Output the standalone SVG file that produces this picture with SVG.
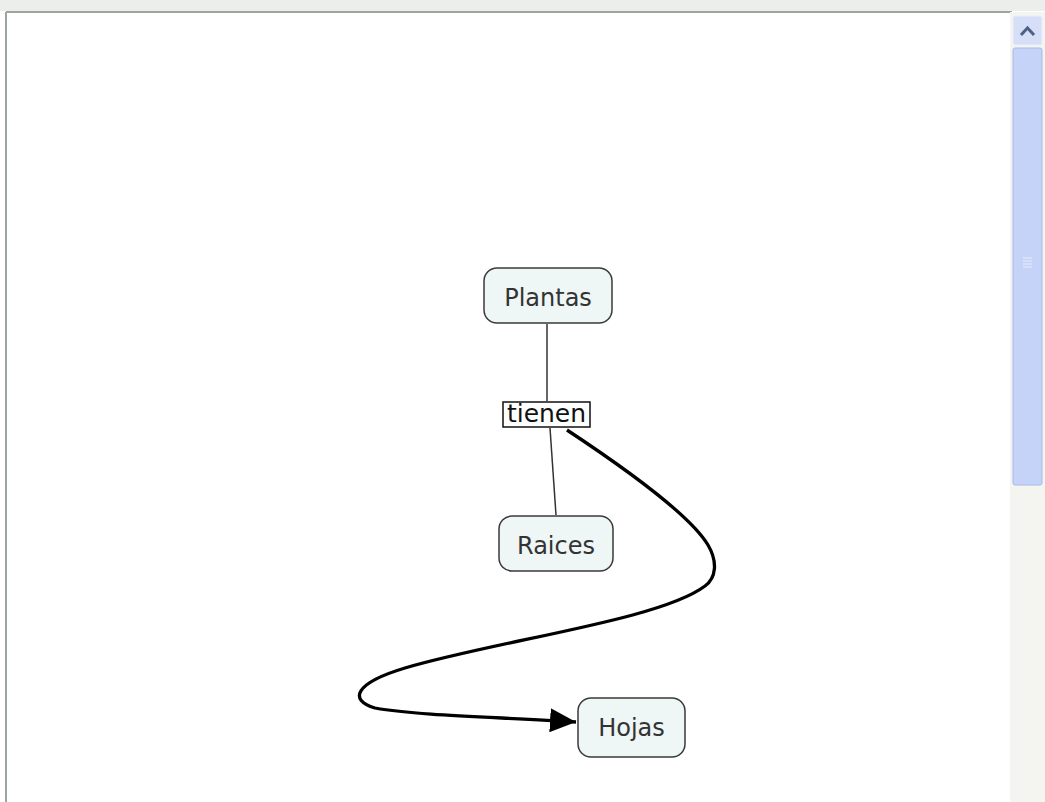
<svg xmlns="http://www.w3.org/2000/svg" width="1045" height="802" viewBox="0 0 1045 802">
<style>
.node rect{fill:#eef6f6;stroke:#3a3a3a;stroke-width:1.5}
.node text,.lbl text{font-family:"DejaVu Sans",sans-serif;font-size:24px;fill:#333;text-anchor:middle}
.lbl text{fill:#111;font-size:25px}
.thin{stroke:#333;stroke-width:1.5;fill:none}
</style>
<defs>
<marker id="ah" markerUnits="userSpaceOnUse" markerWidth="28" markerHeight="24" refX="26" refY="12" orient="auto">
<path d="M0,0 L26,12 L0,24 Z" fill="#000"/>
</marker>
</defs>
<rect x="0" y="0" width="1045" height="802" fill="#fff"/>
<rect x="0" y="0" width="1045" height="11" fill="#eceeec"/>
<line x1="6" y1="12" x2="1012" y2="12" stroke="#9aa6a2" stroke-width="2"/>
<line x1="6" y1="12" x2="6" y2="802" stroke="#9aa6a2" stroke-width="2"/>
<g id="scrollbar">
<rect x="1010" y="12" width="35" height="790" fill="#f4f4f0"/>
<rect x="1013" y="16" width="29" height="29" rx="2" fill="#d6dff7" stroke="#e8eefc"/>
<path d="M1021,35 L1027.5,28 L1034,35" fill="none" stroke="#4d6185" stroke-width="3"/>
<rect x="1013" y="48" width="29" height="437" rx="2" fill="#c6d3f8" stroke="#a9b9e6"/>
<path d="M1023,258 h9 M1023,261 h9 M1023,264 h9 M1023,267 h9" stroke="#e6ecfc" stroke-width="1"/>
</g>
<g id="connectors">
<line class="thin" x1="547" y1="324" x2="547" y2="401"/>
<line class="thin" x1="550" y1="428" x2="556" y2="515"/>
<path d="M567,430 C620,465 690,515 708,545 C718,562 716,578 705,586 C660,620 500,640 405,668 C355,683 348,700 375,708 C420,716 500,717 576,722" fill="none" stroke="#000" stroke-width="3.3" marker-end="url(#ah)"/>
</g>
<g id="node-plantas" class="node">
<rect x="484" y="268" width="128" height="55" rx="13"/>
<text x="548" y="306">Plantas</text>
</g>
<g id="label-tienen" class="lbl">
<rect x="503" y="402" width="87" height="25" fill="#fff" stroke="#111" stroke-width="1.5"/>
<text x="546.5" y="422">tienen</text>
</g>
<g id="node-raices" class="node">
<rect x="499" y="516" width="114" height="55" rx="13"/>
<text x="556" y="554">Raices</text>
</g>
<g id="node-hojas" class="node">
<rect x="578" y="698" width="107" height="59" rx="13"/>
<text x="631.5" y="736">Hojas</text>
</g>
</svg>
